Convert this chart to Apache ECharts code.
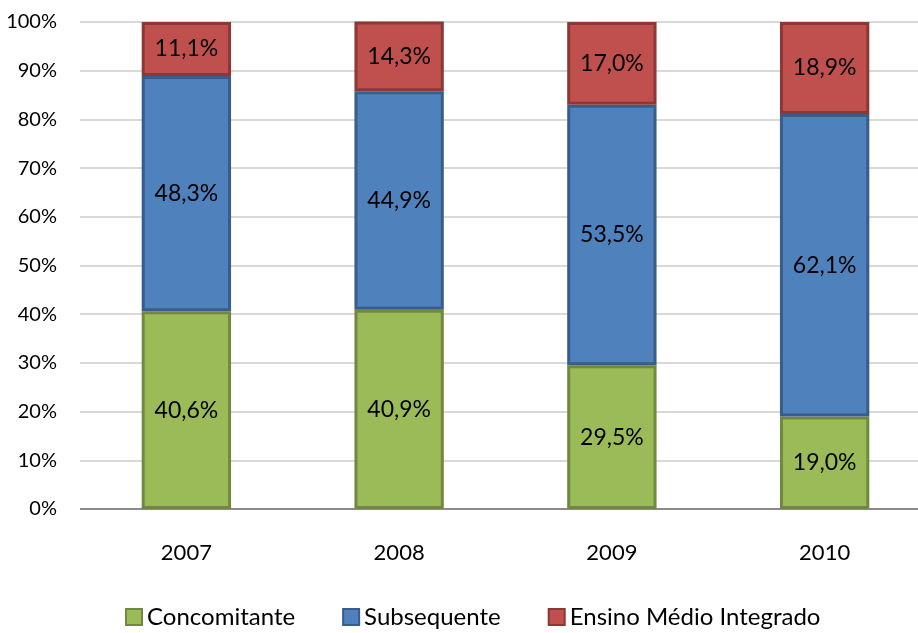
<!DOCTYPE html>
<html>
<head>
<meta charset="utf-8">
<script src="https://cdn.jsdelivr.net/npm/echarts@6/dist/echarts.min.js"></script>
<style>
  html, body { margin: 0; padding: 0; background: #ffffff; }
  #chart { width: 918px; height: 633px; }
</style>
</head>
<body>
<div id="chart"></div>
<script>
// Distribution of enrolments by course type, per year (% of total)
const years = ['2007', '2008', '2009', '2010'];
const concomitante = [40.6, 40.9, 29.5, 19.0];
const subsequente = [48.3, 44.9, 53.5, 62.1];
const integrado = [11.1, 14.3, 17.0, 18.9];
const seriesNames = ['Concomitante', 'Subsequente', 'Ensino Médio Integrado'];

const FONT = 'Lato, Carlito, "Open Sans", sans-serif';
const fmt = p => p.value.toFixed(1).replace('.', ',') + '%';

function stackSeries(name, data, fill, stroke) {
  return {
    name: name,
    type: 'bar',
    stack: 'total',
    barWidth: '42%',
    data: data,
    itemStyle: { color: fill, borderColor: stroke, borderWidth: 3 },
    label: {
      show: true,
      position: 'inside',
      formatter: fmt,
      color: '#000000',
      fontSize: 23,
      fontFamily: FONT
    },
    emphasis: { disabled: true }
  };
}

const chart = echarts.init(document.getElementById('chart'), null, { renderer: 'canvas' });
chart.setOption({
  animation: false,
  backgroundColor: '#ffffff',
  // plot area runs past the right edge of the canvas
  grid: { left: 80, width: 851, top: 22, bottom: 124, containLabel: false, outerBoundsMode: 'none' },
  legend: {
    top: 605,
    left: 125,
    padding: 0,
    itemWidth: 16,
    itemHeight: 16,
    itemGap: 47,
    icon: 'rect',
    textStyle: { fontSize: 24, fontFamily: FONT, color: '#000000' },
    data: seriesNames
  },
  xAxis: {
    type: 'category',
    data: years,
    axisLine: { show: false },
    axisTick: { show: false },
    axisLabel: { fontSize: 22, fontFamily: FONT, color: '#000000', margin: 33 }
  },
  yAxis: {
    type: 'value',
    min: 0,
    max: 100,
    interval: 10,
    axisLine: { show: false },
    axisTick: { show: false },
    axisLabel: { formatter: '{value}%', fontSize: 20, fontFamily: FONT, color: '#000000', margin: 23 },
    splitLine: {
      show: true,
      lineStyle: {
        width: 2,
        color: ['#8a8a8a', '#d9d9d9', '#d9d9d9', '#d9d9d9', '#d9d9d9', '#d9d9d9', '#d9d9d9', '#d9d9d9', '#d9d9d9', '#d9d9d9', '#d9d9d9']
      }
    }
  },
  series: [
    stackSeries(seriesNames[0], concomitante, '#9BBB59', '#71893F'),
    stackSeries(seriesNames[1], subsequente, '#4F81BD', '#385D8A'),
    stackSeries(seriesNames[2], integrado, '#C0504D', '#8C3836')
  ]
});
</script>
</body>
</html>
